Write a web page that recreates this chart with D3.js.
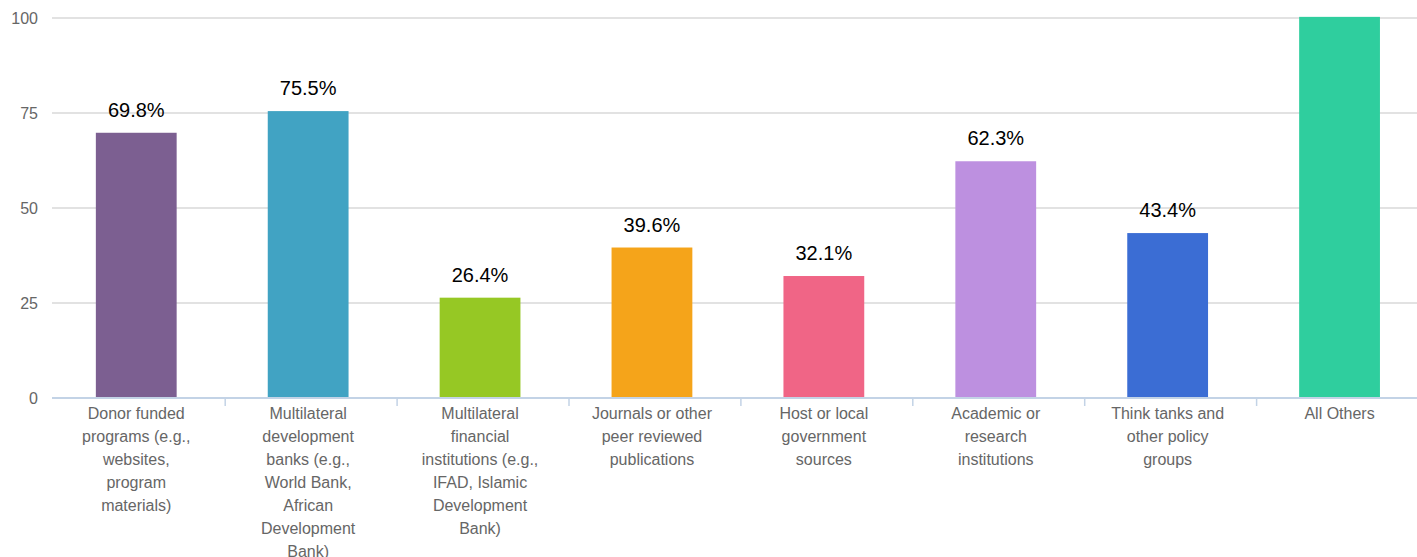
<!DOCTYPE html>
<html>
<head>
<meta charset="utf-8">
<title>Information sources</title>
<style>
  body { margin: 0; background: #fff; }
  svg { display: block; font-family: "Liberation Sans", Arial, Helvetica, sans-serif; }
</style>
</head>
<body>
<svg width="1417" height="557"></svg>
<script src="https://cdnjs.cloudflare.com/ajax/libs/d3/7.8.5/d3.min.js"></script>
<script>
  // chart data
  var categories = [
    "Donor funded programs (e.g., websites, program materials)",
    "Multilateral development banks (e.g., World Bank, African Development Bank)",
    "Multilateral financial institutions (e.g., IFAD, Islamic Development Bank)",
    "Journals or other peer reviewed publications",
    "Host or local government sources",
    "Academic or research institutions",
    "Think tanks and other policy groups",
    "All Others"
  ];
  var values = [69.8, 75.5, 26.4, 39.6, 32.1, 62.3, 43.4, 100.3];
  var colors = ["#7c5f91", "#41a3c3", "#96c824", "#f5a41a", "#f06586", "#bd90e0", "#3b6dd4", "#2fce9e"];
  var yTicks = [0, 25, 50, 75, 100];

  var svg = d3.select("svg");

  // scales
  var x = d3.scaleBand()
    .domain(categories)
    .range([50.3, 50.3 + 8 * 171.9])
    .padding(0);

  var y = d3.scaleLinear()
    .domain([0, 100])
    .range([398, 18]);

  var barW = x.bandwidth() * 0.47;

  // gridlines + y labels
  var grid = svg.append("g");
  grid.selectAll("line")
    .data(yTicks.filter(function (d) { return d > 0; }))
    .enter().append("line")
    .attr("x1", 52)
    .attr("x2", 1417)
    .attr("y1", function (d) { return y(d); })
    .attr("y2", function (d) { return y(d); })
    .attr("stroke", "#c6c6c6")
    .attr("stroke-width", 1.2);

  grid.selectAll("text")
    .data(yTicks)
    .enter().append("text")
    .attr("x", 38)
    .attr("y", function (d) { return y(d); })
    .attr("dy", "0.35em")
    .attr("text-anchor", "end")
    .attr("fill", "#666")
    .style("font-size", "16px")
    .text(function (d) { return d; });

  // bars
  svg.append("g")
    .selectAll("rect")
    .data(values)
    .enter().append("rect")
    .attr("x", function (d, i) { return x(categories[i]) + (x.bandwidth() - barW) / 2; })
    .attr("y", function (d) { return y(d); })
    .attr("width", barW)
    .attr("height", function (d) { return y(0) - y(d); })
    .attr("fill", function (d, i) { return colors[i]; });

  // value labels (ones pushed above the plot top are cut off, as in the original)
  svg.append("g")
    .selectAll("text")
    .data(values.map(function (v, i) { return { v: v, c: categories[i] }; })
      .filter(function (d) { return y(d.v) - 16 > 18; }))
    .enter().append("text")
    .attr("x", function (d) { return x(d.c) + x.bandwidth() / 2; })
    .attr("y", function (d) { return y(d.v) - 16; })
    .attr("text-anchor", "middle")
    .attr("fill", "#000")
    .style("font-size", "20px")
    .text(function (d) { return d.v.toFixed(1) + "%"; });

  // x axis baseline and ticks
  var axis = svg.append("g");
  axis.append("line")
    .attr("x1", 52)
    .attr("x2", 1417)
    .attr("y1", y(0))
    .attr("y2", y(0))
    .attr("stroke", "#c3d3e6")
    .attr("stroke-width", 2);

  axis.selectAll("line.tick")
    .data(categories.slice(1))
    .enter().append("line")
    .attr("class", "tick")
    .attr("x1", function (d) { return x(d) + 3; })
    .attr("x2", function (d) { return x(d) + 3; })
    .attr("y1", y(0))
    .attr("y2", y(0) + 8)
    .attr("stroke", "#c3d3e6")
    .attr("stroke-width", 1.5);

  axis.selectAll("text")
    .data(categories)
    .enter().append("text")
    .attr("x", function (d) { return x(d) + x.bandwidth() / 2; })
    .attr("y", 419)
    .attr("text-anchor", "middle")
    .attr("fill", "#666")
    .style("font-size", "16px")
    .text(function (d) { return d; })
    .call(wrap, 126);

  // wrap words into lines
  function wrap(sel, width) {
    sel.each(function () {
      var text = d3.select(this),
        words = text.text().split(/\s+/),
        cx = text.attr("x"),
        line = [];
      text.text(null);
      var tspan = text.append("tspan").attr("x", cx).attr("dy", 0);
      words.forEach(function (w) {
        line.push(w);
        tspan.text(line.join(" "));
        if (tspan.node().getComputedTextLength() > width && line.length > 1) {
          line.pop();
          tspan.text(line.join(" "));
          line = [w];
          tspan = text.append("tspan").attr("x", cx).attr("dy", "23px").text(w);
        }
      });
    });
  }
</script>
</body>
</html>
